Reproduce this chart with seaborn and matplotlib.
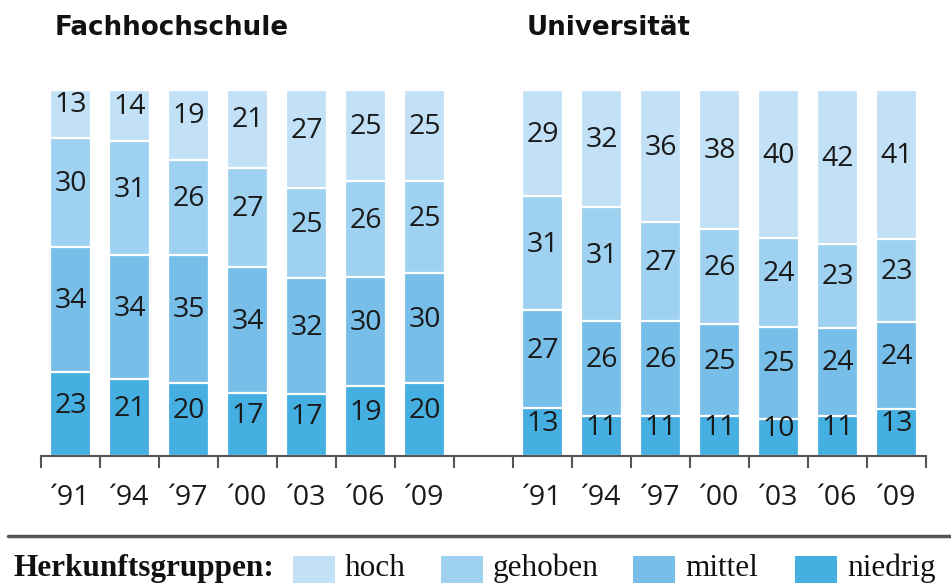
import pandas as pd
import numpy as np
import matplotlib
matplotlib.use("Agg")
import matplotlib.pyplot as plt
import seaborn as sns
from matplotlib.patches import Rectangle
from matplotlib.lines import Line2D

# ------------------------------
# Data (Anteile in %, Herkunftsgruppen)
# ------------------------------
years = ["91", "94", "97", "00", "03", "06", "09"]
groups = ["Fachhochschule", "Universität"]
layers = ["niedrig", "mittel", "gehoben", "hoch"]

fh_niedrig = [23, 21, 20, 17, 17, 19, 20]
fh_mittel = [34, 34, 35, 34, 32, 30, 30]
fh_gehoben = [30, 31, 26, 27, 25, 26, 25]
fh_hoch = [13, 14, 19, 21, 27, 25, 25]

uni_niedrig = [13, 11, 11, 11, 10, 11, 13]
uni_mittel = [27, 26, 26, 25, 25, 24, 24]
uni_gehoben = [31, 31, 27, 26, 24, 23, 23]
uni_hoch = [29, 32, 36, 38, 40, 42, 41]

colors = {"hoch": "#c2e1f6", "gehoben": "#9fd1f0", "mittel": "#77bfe8", "niedrig": "#46afe2"}

# ------------------------------
# Long table (100%-stacked: each bar scaled to its total)
# ------------------------------
rows = []
series = {
    "Fachhochschule": [fh_niedrig, fh_mittel, fh_gehoben, fh_hoch],
    "Universität": [uni_niedrig, uni_mittel, uni_gehoben, uni_hoch],
}
for g in groups:
    for i, y in enumerate(years):
        total = sum(vals[i] for vals in series[g])
        bottom = 0.0
        for layer, vals in zip(layers, series[g]):
            h = vals[i] * 100 / total
            rows.append({"key": f"{g[:3]}{y}", "group": g, "year": y, "layer": layer,
                         "value": vals[i], "bottom": bottom, "top": bottom + h, "h": h})
            bottom += h
df = pd.DataFrame(rows)

order = [f"Fac{y}" for y in years] + ["gap"] + [f"Uni{y}" for y in years]
pos = {k: i for i, k in enumerate(order)}

# ------------------------------
# Plot
# ------------------------------
sns.set_style("white")
plt.rcParams["font.family"] = ["Open Sans", "DejaVu Sans"]

fig = plt.figure(figsize=(9.51, 5.88), dpi=100)
ax = fig.add_axes([41 / 951, 132 / 588, 885 / 951, 366 / 588])

# stacked bars: draw cumulative tops, top layer first
for layer in reversed(layers):
    d = df[df["layer"] == layer]
    sns.barplot(data=d, x="key", y="top", order=order, color=colors[layer],
                width=0.68, edgecolor="white", linewidth=1.6, errorbar=None,
                saturation=1, ax=ax)

for _, r in df.iterrows():
    ax.annotate(str(r["value"]), (pos[r["key"]], r["bottom"] + r["h"] / 2),
                xytext=(0, 6), textcoords="offset points",
                ha="center", va="center", fontsize=20.5, color="#1a1a1a")

ax.set_xlim(-0.5, len(order) - 0.5)
ax.set_ylim(0, 100)
ax.set_xlabel("")
ax.set_ylabel("")
ax.set_yticks([])
for s in ["top", "left", "right"]:
    ax.spines[s].set_visible(False)
ax.spines["bottom"].set_color("#555555")
ax.spines["bottom"].set_linewidth(1.5)

label_keys = [k for k in order if k != "gap"]
ax.set_xticks([pos[k] for k in label_keys])
ax.set_xticklabels(["\u00b4" + k[3:] for k in label_keys], fontsize=20.5, color="#1a1a1a")
ax.set_xticks(np.arange(-0.5, len(order)), minor=True)
ax.tick_params(axis="x", which="major", bottom=True, length=0, pad=20)
ax.tick_params(axis="x", which="minor", bottom=True, length=8.5, width=1.5,
               color="#555555", direction="out")

# titles
fig.text(55 / 951, 1 - 28 / 588, "Fachhochschule", family="DejaVu Sans", fontsize=18.8,
         fontweight="bold", va="center", ha="left", color="#111111")
fig.text(527 / 951, 1 - 28 / 588, "Universität", family="DejaVu Sans", fontsize=18.8,
         fontweight="bold", va="center", ha="left", color="#111111")

# rule
fig.add_artist(Line2D([8 / 951, 1], [1 - 536 / 588] * 2, color="#555555", lw=2.5))

# legend
serif = ["Liberation Serif", "DejaVu Serif"]
ly = 1 - 576 / 588
fig.text(13 / 951, ly, "Herkunftsgruppen:", family=serif, fontsize=22.5, fontweight="bold",
         va="baseline", ha="left", color="#111111")
leg_x = [293, 441, 633, 795]
for layer, x in zip(["hoch", "gehoben", "mittel", "niedrig"], leg_x):
    fig.add_artist(Rectangle((x / 951, 1 - 583 / 588), 42 / 951, 27 / 588,
                             transform=fig.transFigure, color=colors[layer], lw=0))
    fig.text((x + 52) / 951, ly, layer, family=serif, fontsize=22.5,
             va="baseline", ha="left", color="#111111")

fig.savefig("out.png", dpi=100)
